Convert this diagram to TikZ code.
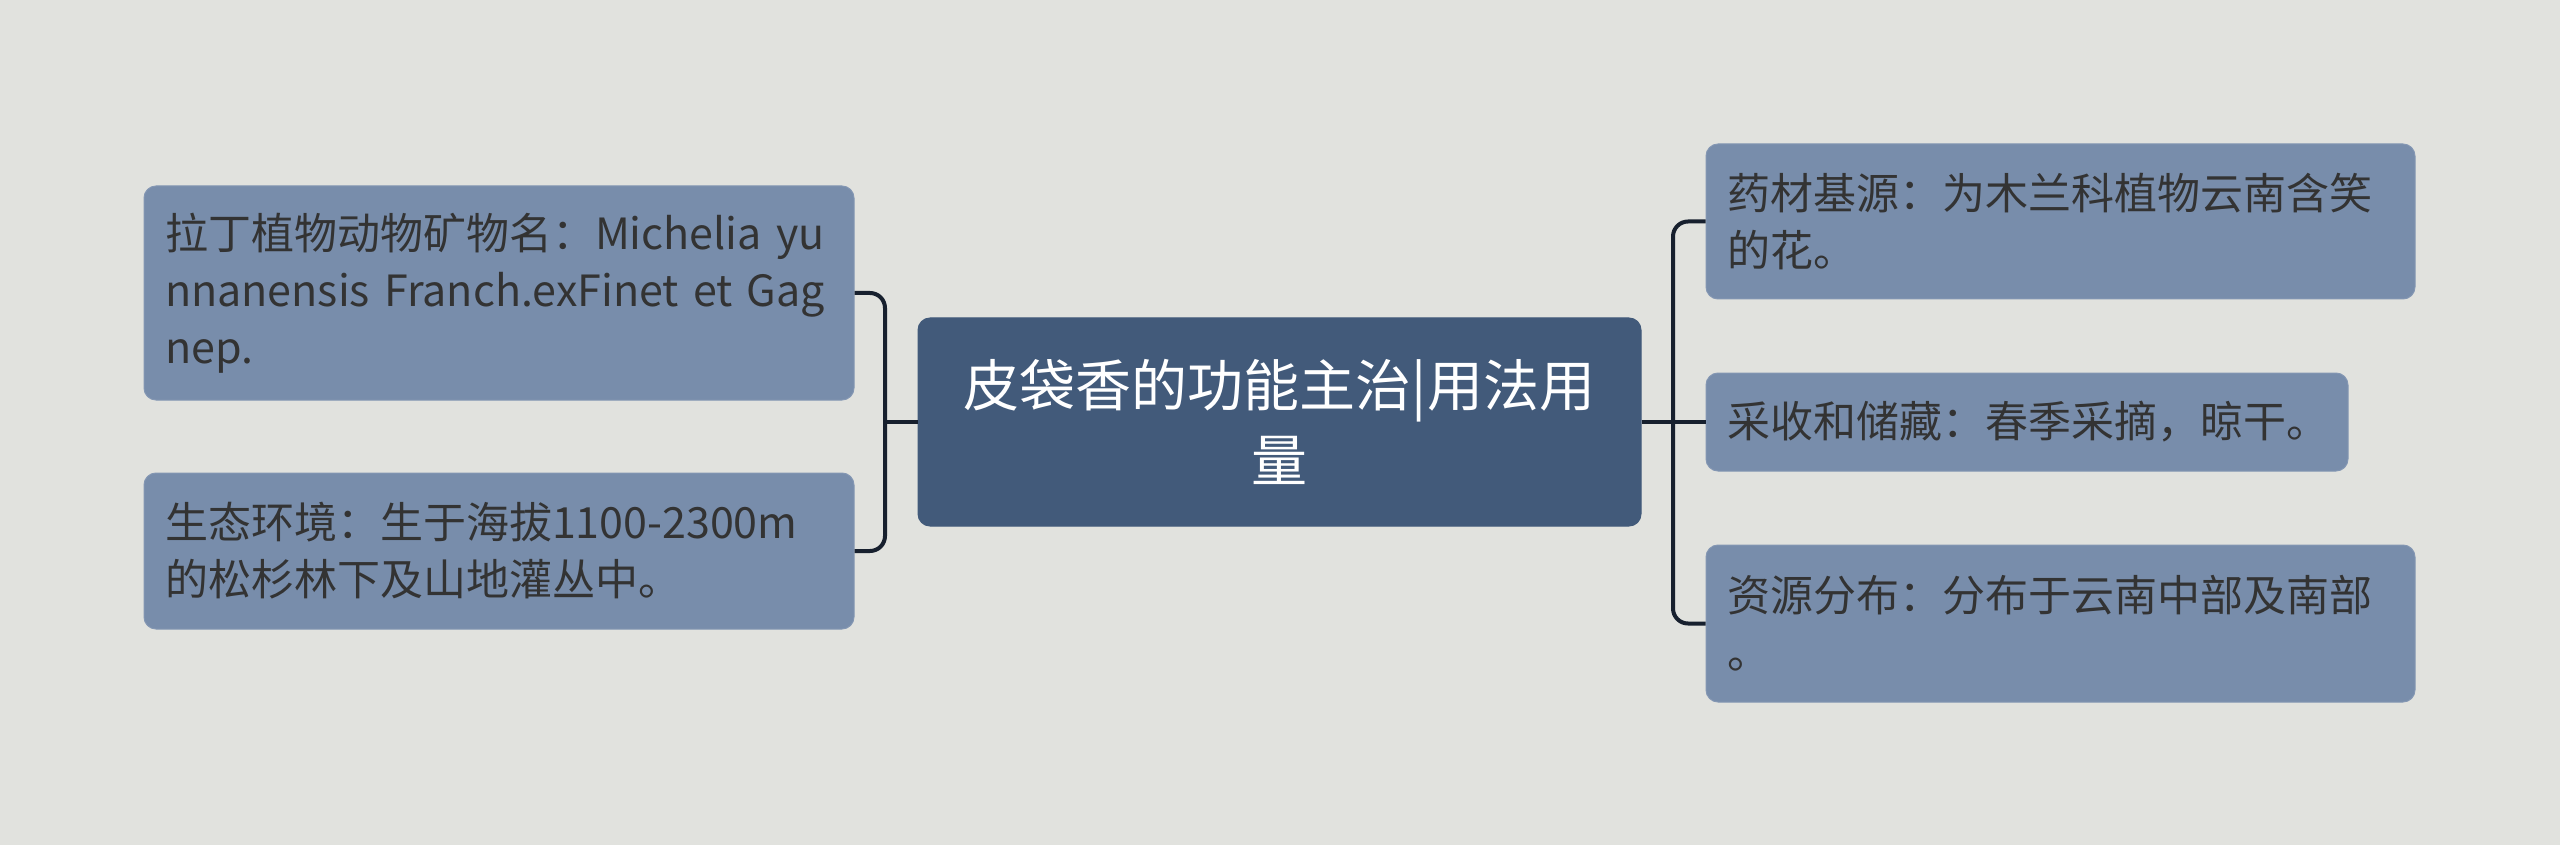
\documentclass[tikz,border=0pt]{standalone}
\usepackage{fontspec}
\setmainfont{Noto Sans CJK SC}
\definecolor{bg}{HTML}{E1E2DE}
\definecolor{leaf}{HTML}{788DAB}
\definecolor{leafedge}{HTML}{8497B3}
\definecolor{root}{HTML}{425A7A}
\definecolor{ink}{HTML}{333333}
\definecolor{conn}{HTML}{17202E}
\begin{document}
\begin{tikzpicture}[
  leafbox/.style={rectangle, rounded corners=6pt, fill=leaf, draw=leafedge, line width=0.5pt,
    text=ink, font=\fontsize{21.5pt}{28.5pt}\selectfont, align=left,
    inner xsep=10.5pt, inner ysep=0pt, anchor=center},
  rootbox/.style={rectangle, rounded corners=6pt, fill=root, draw=root, line width=0.5pt,
    text=white, font=\fontsize{28pt}{37.5pt}\selectfont, align=center,
    inner xsep=10pt, inner ysep=0pt, anchor=center, text width=341.5pt,
    minimum width=361.5pt, minimum height=104pt},
  link/.style={draw=conn, line width=2pt, rounded corners=7.5pt}
]
\fill[bg] (0,0) rectangle (1280pt,-422.5pt);
\useasboundingbox (0,0) rectangle (1280pt,-422.5pt);

\node[rootbox] (C) at (639.75pt,-211pt) {皮袋香的功能主治|用法用\\量};

\node[leafbox, text width=334pt, minimum width=355pt, minimum height=107pt] (L1) at (249.5pt,-146.5pt)
  {拉丁植物动物矿物名：Michelia yu\\nnanensis Franch.exFinet et Gag\\nep.};
\node[leafbox, text width=334pt, minimum width=355pt, minimum height=78pt] (L2) at (249.5pt,-275.5pt)
  {生态环境：生于海拔1100-2300m\\的松杉林下及山地灌丛中。};

\node[leafbox, text width=333.5pt, minimum width=354.5pt, minimum height=77.5pt] (R1) at (1030.25pt,-110.75pt)
  {药材基源：为木兰科植物云南含笑\\的花。};
\node[leafbox, text width=300pt, minimum width=321pt, minimum height=49pt] (R2) at (1013.5pt,-211pt)
  {采收和储藏：春季采摘，晾干。};
\node[leafbox, text width=333.5pt, minimum width=354.5pt, minimum height=78.5pt] (R3) at (1030.25pt,-311.75pt)
  {资源分布：分布于云南中部及南部\\。};

\coordinate (rj) at (836.5pt,-211pt);
\coordinate (lj) at (442.5pt,-211pt);

\draw[link] (C.east) -- (R2.west);
\draw[link] (rj) |- (R1.west);
\draw[link] (rj) |- (R3.west);

\draw[link] (C.west) -- (lj);
\draw[link] (lj) |- (L1.east);
\draw[link] (lj) |- (L2.east);
\end{tikzpicture}
\end{document}
